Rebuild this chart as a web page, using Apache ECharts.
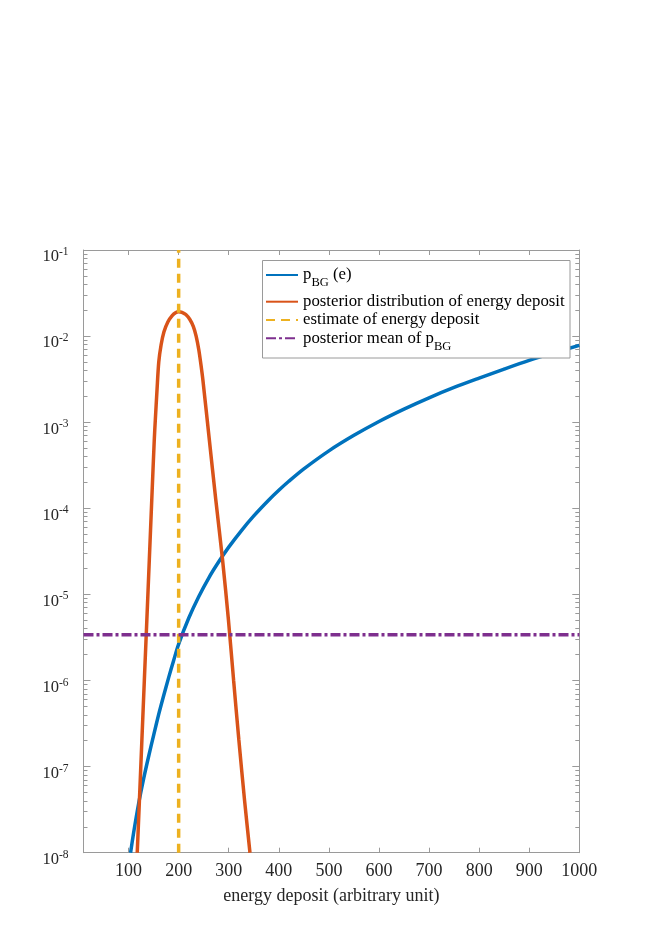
<!DOCTYPE html>
<html><head><meta charset="utf-8">
<script src="https://cdn.jsdelivr.net/npm/echarts@6/dist/echarts.min.js"></script>
<style>html,body{margin:0;padding:0;background:#fff}#c{width:661px;height:935px}</style>
</head><body><div id="c"></div>
<script>
// ---- data ----
const xTickLabels = [100, 200, 300, 400, 500, 600, 700, 800, 900, 1000];
const yMajorTicks = [1e-8, 1e-7, 1e-6, 1e-5, 1e-4, 1e-3, 1e-2, 1e-1];

const pbgX = [104, 110, 120, 130, 140, 150, 160, 170, 180, 190, 200, 220, 240, 260, 280, 300, 325, 350, 380, 400, 420, 450, 500, 550, 600, 650, 700, 750, 800, 850, 900, 950, 1000];
const pbgY = [1.00e-8, 1.69e-8, 3.70e-8, 7.21e-8, 1.31e-7, 2.31e-7, 4.01e-7, 6.65e-7, 1.08e-6, 1.71e-6, 2.65e-6, 5.28e-6, 9.40e-6, 1.55e-5, 2.39e-5, 3.54e-5, 5.48e-5, 8.16e-5, 1.25e-4, 1.62e-4, 2.06e-4, 2.87e-4, 4.65e-4, 7.04e-4, 1.02e-3, 1.42e-3, 1.92e-3, 2.53e-3, 3.25e-3, 4.14e-3, 5.22e-3, 6.42e-3, 7.81e-3];

const postX = [117.3, 121.7, 126.6, 131.5, 136.5, 141.4, 146.3, 151.3, 153.4, 156.8, 160.3, 164.9, 170.7, 178.4, 187.1, 194.6, 200, 206.6, 214.3, 222.4, 229.4, 234.9, 240.3, 244.6, 248.4, 261.3, 274.2, 287.7, 299.4, 309.7, 320.2, 331.5, 342.4];
const postY = [1.00e-8, 4.10e-8, 2.04e-7, 1.01e-6, 5.05e-6, 2.51e-5, 1.25e-4, 6.21e-4, 1.06e-3, 2.37e-3, 5.00e-3, 7.88e-3, 1.12e-2, 1.46e-2, 1.73e-2, 1.88e-2, 1.92e-2, 1.89e-2, 1.78e-2, 1.56e-2, 1.29e-2, 1.00e-2, 6.90e-3, 4.61e-3, 3.09e-3, 6.21e-4, 1.25e-4, 2.51e-5, 5.05e-6, 1.01e-6, 2.04e-7, 4.10e-8, 1.00e-8];

const estimateX = [200, 200];
const estimateY = [1e-8, 1e-1];
const meanX = [10, 1000];
const meanY = [3.4e-6, 3.4e-6];

const seriesNames = ['pBG (e)', 'posterior distribution of energy deposit', 'estimate of energy deposit', 'posterior mean of pBG'];
const legendLabels = ['{n|p}{s|BG}{n| (e)}', 'posterior distribution of energy deposit', 'estimate of energy deposit', '{n|posterior mean of p}{s|BG}'];
// ---------------------------------------

const FONT = 'Liberation Serif';
const minorTicks = [];
for (let e = -8; e < -1; e++) for (let m = 2; m <= 9; m++) minorTicks.push(m * Math.pow(10, e));

const zip = (a, b) => a.map((v, i) => [v, b[i]]);
const axisCol = '#9a9a9a';
const textCol = '#262626';

const chart = echarts.init(document.getElementById('c'), null, {renderer: 'canvas'});

const yBase = {type: 'log', logBase: 10, min: 1e-8, max: 1e-1, gridIndex: 0, splitLine: {show: false}};
const legendRows = [
  {c: 275, h: 34}, {c: 301.7, h: 18}, {c: 320, h: 18}, {c: 338.3, h: 34}
];

const legends = seriesNames.map((nm, i) => ({
  data: [nm],
  orient: 'vertical',
  left: 265,
  top: legendRows[i].c - legendRows[i].h / 2,
  padding: 0,
  itemWidth: 32,
  itemHeight: 12,
  selectedMode: false,
  itemStyle: {opacity: 0, borderWidth: 0},
  formatter: () => legendLabels[i],
  textStyle: {
    fontFamily: FONT, fontSize: 16.8, color: '#000', lineHeight: 18,
    rich: {
      n: {fontFamily: FONT, fontSize: 16.8, color: '#000', lineHeight: 34},
      s: {fontFamily: FONT, fontSize: 12.5, color: '#000', lineHeight: 12, padding: [16, 0, 0, 0]}
    }
  }
}));

chart.setOption({
  animation: false,
  backgroundColor: '#fff',
  grid: {left: 83.5, right: 81.7, top: 250, bottom: 82.3, containLabel: false},
  legend: legends,
  graphic: [{
    type: 'rect', z: 3,
    shape: {x: 262.5, y: 260.5, width: 307.5, height: 97.5},
    style: {fill: '#fff', stroke: axisCol, lineWidth: 1}
  }],
  xAxis: [{
    type: 'value', min: 10, max: 1000, position: 'bottom',
    name: 'energy deposit (arbitrary unit)', nameLocation: 'middle', nameGap: 35,
    nameTextStyle: {fontFamily: FONT, fontSize: 18, color: textCol},
    axisLine: {show: true, onZero: false, lineStyle: {color: axisCol, width: 1}},
    axisTick: {show: true, inside: true, length: 5, lineStyle: {color: axisCol}, customValues: xTickLabels},
    axisLabel: {fontFamily: FONT, fontSize: 18, color: textCol, margin: 10, customValues: xTickLabels, formatter: v => String(v)},
    splitLine: {show: false}
  }, {
    type: 'value', min: 10, max: 1000, position: 'top',
    axisLine: {show: true, onZero: false, lineStyle: {color: axisCol, width: 1}},
    axisTick: {show: true, inside: true, length: 5, lineStyle: {color: axisCol}, customValues: xTickLabels},
    axisLabel: {show: false},
    splitLine: {show: false}
  }],
  yAxis: [Object.assign({}, yBase, {
    position: 'left',
    axisLine: {show: true, onZero: false, lineStyle: {color: axisCol, width: 1}},
    axisTick: {show: true, inside: true, length: 7, lineStyle: {color: axisCol}, customValues: yMajorTicks},
    axisLabel: {
      customValues: yMajorTicks, margin: 15, padding: [14, 0, 0, 0],
      formatter: v => '{b|10}{s|' + Math.round(Math.log10(v)) + '}',
      rich: {
        b: {fontFamily: FONT, fontSize: 16.5, color: textCol, lineHeight: 22},
        s: {fontFamily: FONT, fontSize: 11.5, color: textCol, lineHeight: 12, verticalAlign: 'top'}
      }
    }
  }), Object.assign({}, yBase, {
    position: 'left',
    axisLine: {show: false},
    axisTick: {show: true, inside: true, length: 4, lineStyle: {color: axisCol}, customValues: minorTicks},
    axisLabel: {show: false}
  }), Object.assign({}, yBase, {
    position: 'right',
    axisLine: {show: true, onZero: false, lineStyle: {color: axisCol, width: 1}},
    axisTick: {show: true, inside: true, length: 7, lineStyle: {color: axisCol}, customValues: yMajorTicks},
    axisLabel: {show: false}
  }), Object.assign({}, yBase, {
    position: 'right',
    axisLine: {show: false},
    axisTick: {show: true, inside: true, length: 4, lineStyle: {color: axisCol}, customValues: minorTicks},
    axisLabel: {show: false}
  })],
  series: [{
    name: seriesNames[0], type: 'line', smooth: 0.3, showSymbol: false, symbol: 'none', clip: true,
    data: zip(pbgX, pbgY), color: '#0072BD',
    lineStyle: {color: '#0072BD', width: 3.5}, z: 2
  }, {
    name: seriesNames[1], type: 'line', smooth: 0.3, showSymbol: false, symbol: 'none', clip: true,
    data: zip(postX, postY), color: '#D95319',
    lineStyle: {color: '#D95319', width: 3.5}, z: 2
  }, {
    name: seriesNames[2], type: 'line', showSymbol: false, symbol: 'none', clip: true,
    data: zip(estimateX, estimateY), color: '#EDB120',
    lineStyle: {color: '#EDB120', width: 3.5, type: [9, 6]}, z: 2
  }, {
    name: seriesNames[3], type: 'line', showSymbol: false, symbol: 'none', clip: true,
    data: zip(meanX, meanY), color: '#7E2F8E',
    lineStyle: {color: '#7E2F8E', width: 3.5, type: [10, 3, 3, 3]}, z: 2
  }]
});
</script></body></html>
